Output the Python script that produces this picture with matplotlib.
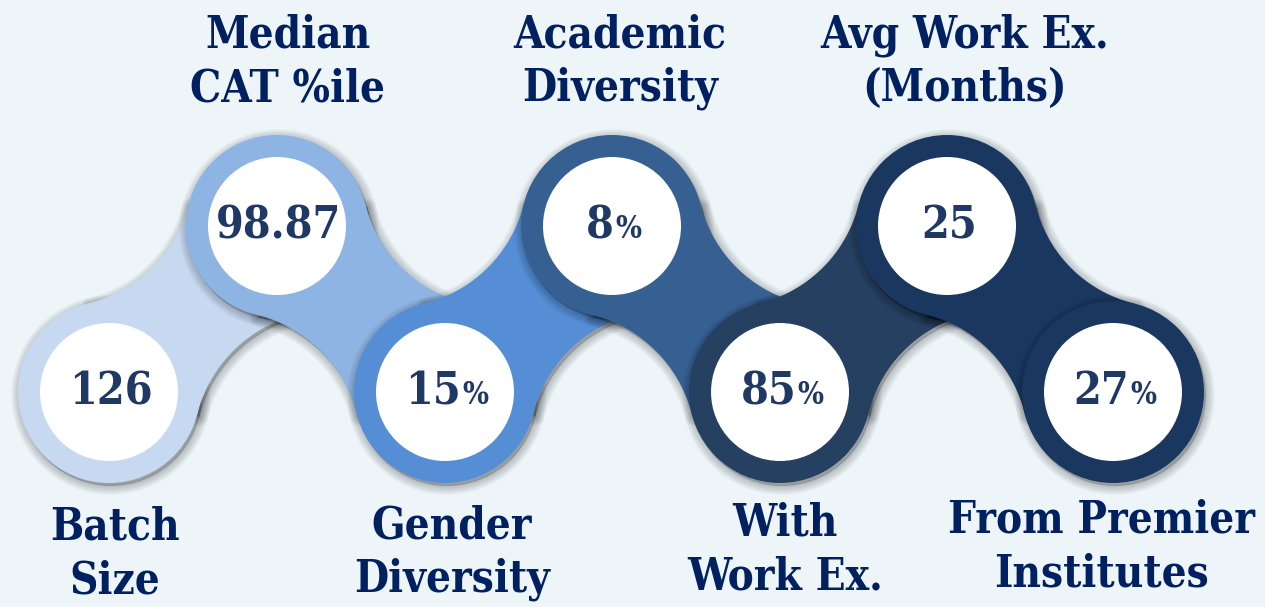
import numpy as np
import matplotlib
matplotlib.use("Agg")
import matplotlib.pyplot as plt
from matplotlib.patches import Circle, Polygon
from matplotlib.offsetbox import TextArea, HPacker, AnnotationBbox

# data
values = ["126", "98.87", "15", "8", "85", "25", "27"]
is_pct = [False, False, True, True, True, False, True]
labels = ["Batch\nSize", "Median\nCAT %ile", "Gender\nDiversity", "Academic\nDiversity",
          "With\nWork Ex.", "Avg Work Ex.\n(Months)", "From Premier\nInstitutes"]
colors = ["#C6D9F1", "#8EB4E3", "#558ED5", "#376092", "#254061", "#1A375F", "#1A375F"]

BG = "#EDF5F9"
NAVY = "#002060"
NUM = "#1F3864"
FONT = dict(family="DejaVu Serif", weight="bold", stretch="condensed")

# layout (pixels)
cx = [109, 277, 445, 612, 780, 947, 1113]
cy_low, cy_high = 392, 226
R_OUT, R_IN = 91, 69
WAIST = 58

fig = plt.figure(figsize=(12.65, 6.07), dpi=100)
fig.patch.set_facecolor(BG)
ax = fig.add_axes([0, 0, 1, 1])
ax.set_xlim(0, 1265)
ax.set_ylim(607, 0)
ax.set_aspect("equal")
ax.axis("off")

centers = [np.array([x, cy_low if i % 2 == 0 else cy_high], float) for i, x in enumerate(cx)]


def neck(a, b, R, w):
    # region between two circles, bounded by two concave arcs
    D = np.linalg.norm(b - a)
    d = (b - a) / D
    n = np.array([-d[1], d[0]])
    L = D / 2
    m = (a + b) / 2
    rc = (w ** 2 + L ** 2 - R ** 2) / (2 * (R - w))
    h = w + rc
    pts = []
    for s in (1, -1):
        c = m + s * h * n
        tA = a + R * (c - a) / np.linalg.norm(c - a)
        tB = b + R * (c - b) / np.linalg.norm(c - b)
        thA = np.arctan2(*(tA - c)[::-1])
        thB = np.arctan2(*(tB - c)[::-1])
        diff = (thB - thA + np.pi) % (2 * np.pi) - np.pi
        th = thA + np.linspace(0, diff, 40)
        arc = c + rc * np.column_stack([np.cos(th), np.sin(th)])
        pts.append(arc if s == 1 else arc[::-1])
    return np.vstack([pts[0], pts[1]])


def shadow(patch_fn, z):
    # soft drop shadow from stacked translucent strokes
    for k in range(1, 9):
        p = patch_fn()
        p.set_facecolor("black")
        p.set_edgecolor("black")
        p.set_alpha(0.028)
        p.set_linewidth(1.6 * k)
        p.set_joinstyle("round")
        p.set_zorder(z)
        ax.add_patch(p)


off = np.array([2, 3])
for i, c in enumerate(centers):
    z = 2 * i + 1
    shadow(lambda c=c: Circle(c + off, R_OUT), z)
    if i < len(centers) - 1:
        poly = neck(c, centers[i + 1], R_OUT, WAIST)
        shadow(lambda poly=poly: Polygon(poly + off, closed=True), z)
        ax.add_patch(Polygon(poly, closed=True, facecolor=colors[i], edgecolor="none", zorder=z + 0.5))
    ax.add_patch(Circle(c, R_OUT, facecolor=colors[i], edgecolor="none", zorder=z + 0.5))
    ax.add_patch(Circle(c, R_IN, facecolor="white", edgecolor="none", zorder=z + 0.8))

    parts = [TextArea(values[i], textprops=dict(fontsize=32, color=NUM, **FONT))]
    if is_pct[i]:
        parts.append(TextArea("%", textprops=dict(fontsize=22, color=NUM, **FONT)))
    box = HPacker(children=parts, align="baseline", pad=0, sep=1)
    ab = AnnotationBbox(box, (c[0] + 2, c[1]), frameon=False, box_alignment=(0.5, 0.5), zorder=20)
    ax.add_artist(ab)

# labels
label_pos = [(115, 554), (288, 62), (452, 553), (620, 62), (785, 550), (965, 62), (1102, 547)]
for (x, y), lab in zip(label_pos, labels):
    ax.text(x, y, lab, ha="center", va="center", fontsize=31.5, color=NAVY,
            linespacing=1.3, zorder=30, **FONT)

fig.savefig("out.png", dpi=100, facecolor=BG)
